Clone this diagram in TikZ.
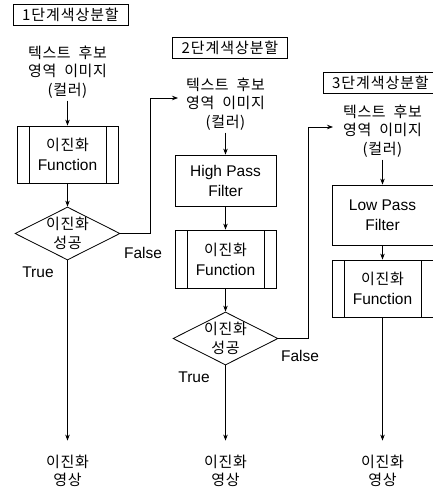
\documentclass[tikz,border=0pt]{standalone}
\usepackage{fontspec}
\setmainfont{Liberation Sans}
\newfontfamily\kr{Noto Sans CJK KR}[WordSpace=2, LetterSpace=4]
\newfontfamily\krt{Noto Sans CJK KR}[LetterSpace=6]
\newcommand\kf{\kr\fontsize{15}{20}\selectfont}
\usetikzlibrary{shapes.geometric,arrows.meta}

\begin{document}
\begin{tikzpicture}[x=1pt,y=-1pt,
  line width=0.8pt,
  arr/.style={-{Stealth[length=6pt,width=4.5pt]}},
  titlebox/.style={draw, minimum width=115pt, minimum height=21pt, inner sep=0pt, font=\krt\fontsize{15}{16}\selectfont},
  ktext/.style={align=center, font=\kr\fontsize{15}{18.5}\selectfont, inner sep=2pt},
  procbox/.style={draw, minimum width=101pt, align=center, inner sep=0pt, font=\fontsize{15.5}{20}\selectfont},
  fnbox/.style={procbox, path picture={
      \draw ([xshift=12pt]path picture bounding box.north west) -- ([xshift=12pt]path picture bounding box.south west)
            ([xshift=-12pt]path picture bounding box.north east) -- ([xshift=-12pt]path picture bounding box.south east);}},
  dia/.style={draw, diamond, minimum width=105pt, minimum height=53pt, inner sep=0pt},
  lab/.style={font=\fontsize{15.5}{18}\selectfont, inner sep=0pt}
]
\useasboundingbox (0,0) rectangle (432,490);

% column 1
\node[titlebox] (t1) at (70.5,15) {1단계색상분할};
\node[ktext] (in1) at (67.5,72) {텍스트 후보\\영역 이미지\\(컬러)};
\node[fnbox, minimum height=57pt] (f1) at (67.5,154.5) {{\kf 이진화}\\Function};
\node[dia] (d1) at (67.5,233.5) {};
\node[ktext] at (d1) {이진화\\성공};
\node[ktext] (o1) at (67.5,471) {이진화\\영상};
\node[lab] (tr1) at (38,272) {True};
\node[lab] (fa1) at (143,253) {False};

% column 2
\node[titlebox] (t2) at (230,47.5) {2단계색상분할};
\node[ktext] (in2) at (225.5,104) {텍스트 후보\\영역 이미지\\(컬러)};
\node[procbox, minimum height=51pt] (hp) at (225.5,180.5) {High Pass\\Filter};
\node[fnbox, minimum height=58pt] (f2) at (225.5,259) {{\kf 이진화}\\Function};
\node[dia] (d2) at (225.5,338.5) {};
\node[ktext] at (d2) {이진화\\성공};
\node[ktext] (o2) at (225.5,471) {이진화\\영상};
\node[lab] (tr2) at (194,377) {True};
\node[lab] (fa2) at (300,356) {False};

% column 3
\node[titlebox] (t3) at (380.5,83) {3단계색상분할};
\node[ktext] (in3) at (382.5,131) {텍스트 후보\\영역 이미지\\(컬러)};
\node[procbox, minimum height=60pt] (lp) at (382.5,215) {Low Pass\\Filter};
\node[fnbox, minimum height=57pt] (f3) at (382.5,288.5) {{\kf 이진화}\\Function};
\node[ktext] (o3) at (382.5,471) {이진화\\영상};

\coordinate (e2) at (178,98);
\coordinate (e3) at (333,127);

% connectors
\draw[arr] (in1) -- (f1);
\draw[arr] (f1) -- (d1);
\draw[arr, shorten >=12pt] (d1.south) -- (o1.north);
\draw[arr] (d1.east) -- ++(30,0) |- (e2);

\draw[arr] (in2) -- (hp);
\draw[arr] (hp) -- (f2);
\draw[arr] (f2) -- (d2);
\draw[arr, shorten >=12pt] (d2.south) -- (o2.north);
\draw[arr] (d2.east) -- ++(30,0) |- (e3);

\draw[arr] (in3) -- (lp);
\draw[arr] (lp) -- (f3);
\draw[arr, shorten >=12pt] (f3.south) -- (o3.north);
\end{tikzpicture}
\end{document}
